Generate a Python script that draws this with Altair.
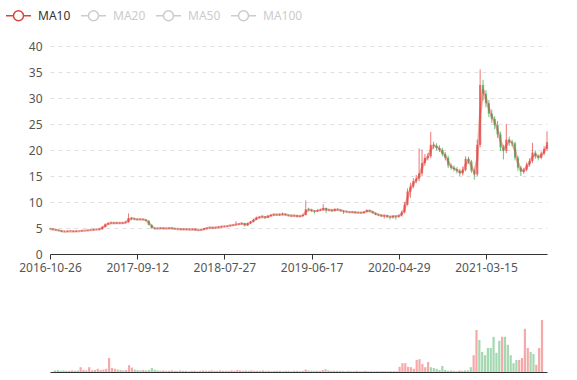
import altair as alt
import pandas as pd

# ---- data (one candle ~ 7 trading days) ----
tick_labels = ["2016-10-26", "2017-09-12", "2018-07-27", "2019-06-17", "2020-04-29", "2021-03-15"]
label_step = 30
ma_names = ["MA10", "MA20", "MA50", "MA100"]

opens = [4.90, 4.80, 4.70, 4.60, 4.50, 4.30, 4.30, 4.40, 4.40, 4.30, 4.40, 4.40, 4.50, 4.50, 4.60, 4.60, 4.70, 4.70, 4.80, 5.20,
         5.70, 5.90, 6.00, 5.90, 6.00, 5.90, 6.00, 6.10, 6.90, 6.80, 6.70, 6.60, 6.70, 6.60, 6.40, 5.60, 5.00, 4.90, 4.90, 5.00,
         4.90, 4.90, 5.00, 4.90, 4.80, 4.80, 4.70, 4.80, 4.70, 4.70, 4.80, 4.60, 4.60, 4.70, 4.90, 5.00, 5.10, 5.00, 5.10, 5.20,
         5.30, 5.30, 5.40, 5.50, 5.60, 5.70, 5.80, 5.90, 5.50, 5.90, 6.20, 6.60, 7.00, 7.10, 7.20, 7.00, 7.30, 7.50, 7.60, 7.50,
         7.60, 7.70, 7.50, 7.40, 7.30, 7.40, 7.20, 7.30, 7.50, 8.60, 8.50, 8.30, 8.20, 8.40, 8.50, 8.80, 8.40, 8.50, 8.30, 8.60,
         8.50, 8.30, 8.20, 8.10, 8.00, 8.10, 7.90, 8.00, 7.90, 8.10, 8.40, 8.20, 7.90, 7.60, 7.50, 7.30, 7.40, 7.20, 7.10, 7.30,
         7.20, 7.40, 8.00, 9.50, 12.00, 13.00, 14.00, 14.50, 15.50, 17.50, 18.50, 18.80, 21.00, 20.80, 20.40, 20.00, 19.20, 18.50, 17.00, 16.60,
         16.30, 16.00, 15.50, 16.20, 18.30, 17.80, 16.00, 15.30, 21.00, 32.50, 30.80, 29.00, 27.00, 26.00, 24.80, 23.00, 20.50, 19.80, 22.00, 21.50,
         21.30, 18.50, 16.60, 15.80, 16.20, 17.20, 17.90, 19.50, 18.80, 18.50, 19.30, 20.20]

closes = [4.80, 4.70, 4.60, 4.50, 4.30, 4.30, 4.40, 4.40, 4.30, 4.40, 4.40, 4.50, 4.50, 4.60, 4.60, 4.70, 4.70, 4.80, 5.20, 5.70,
          5.90, 6.00, 5.90, 6.00, 5.90, 6.00, 6.10, 6.90, 6.80, 6.70, 6.60, 6.70, 6.60, 6.40, 5.60, 5.00, 4.90, 4.90, 5.00, 4.90,
          4.90, 5.00, 4.90, 4.80, 4.80, 4.70, 4.80, 4.70, 4.70, 4.80, 4.60, 4.60, 4.70, 4.90, 5.00, 5.10, 5.00, 5.10, 5.20, 5.30,
          5.30, 5.40, 5.50, 5.60, 5.70, 5.80, 5.90, 5.50, 5.90, 6.20, 6.60, 7.00, 7.10, 7.20, 7.00, 7.30, 7.50, 7.60, 7.50, 7.60,
          7.70, 7.50, 7.40, 7.30, 7.40, 7.20, 7.30, 7.50, 8.60, 8.50, 8.30, 8.20, 8.40, 8.50, 8.80, 8.40, 8.50, 8.30, 8.60, 8.50,
          8.30, 8.20, 8.10, 8.00, 8.10, 7.90, 8.00, 7.90, 8.10, 8.40, 8.20, 7.90, 7.60, 7.50, 7.30, 7.40, 7.20, 7.10, 7.30, 7.20,
          7.40, 8.00, 9.50, 12.00, 13.00, 14.00, 14.50, 15.50, 17.50, 18.50, 18.80, 21.00, 20.80, 20.40, 20.00, 19.20, 18.50, 17.00, 16.60, 16.30,
          16.00, 15.50, 16.20, 18.30, 17.80, 16.00, 15.30, 21.00, 32.50, 30.80, 29.00, 27.00, 26.00, 24.80, 23.00, 20.50, 19.80, 22.00, 21.50, 21.30,
          18.50, 16.60, 15.80, 16.20, 17.20, 17.90, 19.50, 18.80, 18.50, 19.30, 20.20, 21.50]

highs = [5.00, 4.90, 4.80, 4.70, 4.60, 4.45, 4.50, 4.55, 4.50, 4.55, 4.50, 4.60, 4.60, 4.70, 4.75, 4.80, 4.80, 4.95, 5.40, 5.90,
         6.10, 6.20, 6.10, 6.15, 6.10, 6.15, 6.30, 7.80, 7.10, 6.95, 6.85, 6.85, 6.80, 6.70, 6.50, 5.70, 5.10, 5.05, 5.10, 5.10,
         5.05, 5.15, 5.10, 5.00, 4.95, 4.90, 4.95, 4.90, 4.85, 4.90, 4.90, 4.75, 4.80, 5.00, 5.15, 5.25, 5.20, 5.20, 5.35, 5.40,
         5.45, 5.50, 5.65, 5.70, 6.30, 5.95, 6.05, 6.00, 6.05, 6.35, 6.80, 7.20, 7.30, 7.45, 7.30, 7.50, 7.70, 7.80, 7.75, 7.80,
         7.95, 7.80, 7.65, 7.55, 7.55, 7.50, 7.45, 7.65, 10.30, 8.90, 8.70, 8.45, 8.60, 8.70, 9.60, 8.95, 8.70, 8.60, 8.80, 8.75,
         8.60, 8.45, 8.30, 8.20, 8.25, 8.20, 8.10, 8.10, 8.25, 8.60, 8.50, 8.30, 8.00, 7.70, 7.60, 7.55, 7.50, 7.30, 7.45, 7.40,
         7.55, 8.30, 10.00, 12.60, 13.70, 14.60, 15.20, 20.30, 20.10, 19.20, 19.40, 23.50, 21.60, 21.30, 20.90, 20.40, 19.60, 18.90, 17.40, 17.00,
         16.70, 16.40, 16.80, 18.80, 18.70, 18.10, 16.30, 22.00, 35.50, 33.50, 31.50, 29.60, 27.80, 26.50, 25.60, 23.50, 21.00, 25.00, 22.60, 22.00,
         21.60, 18.90, 16.90, 16.60, 17.60, 18.40, 21.40, 19.90, 19.20, 19.70, 20.70, 23.60]

lows = [4.70, 4.60, 4.50, 4.40, 4.20, 4.20, 4.20, 4.30, 4.20, 4.25, 4.30, 4.30, 4.40, 4.40, 4.50, 4.50, 4.60, 4.60, 4.70, 5.10,
        5.60, 5.80, 5.75, 5.80, 5.80, 5.80, 5.90, 6.00, 6.50, 6.50, 6.45, 6.50, 6.45, 6.30, 5.50, 4.85, 4.75, 4.80, 4.80, 4.75,
        4.80, 4.80, 4.75, 4.70, 4.65, 4.60, 4.60, 4.60, 4.55, 4.60, 4.45, 4.45, 4.50, 4.60, 4.75, 4.90, 4.85, 4.90, 5.00, 5.10,
        5.15, 5.20, 5.30, 5.40, 5.50, 5.60, 5.65, 5.30, 5.40, 5.80, 6.10, 6.50, 6.80, 6.90, 6.70, 6.90, 7.20, 7.35, 7.40, 7.35,
        7.45, 7.40, 7.25, 7.15, 7.20, 7.05, 7.10, 7.20, 7.40, 8.20, 8.10, 7.80, 8.10, 8.25, 8.30, 7.90, 8.25, 8.10, 8.20, 8.30,
        8.15, 7.70, 7.95, 7.85, 7.90, 7.75, 7.80, 7.70, 7.80, 8.00, 8.05, 7.75, 7.45, 7.30, 7.10, 6.80, 6.90, 6.60, 6.80, 6.60,
        7.00, 7.20, 7.80, 9.30, 10.80, 12.60, 13.60, 14.00, 15.00, 17.00, 18.00, 18.40, 20.20, 19.90, 19.60, 18.80, 18.00, 16.50, 16.20, 15.90,
        15.50, 15.00, 15.10, 15.90, 17.30, 15.60, 14.30, 15.00, 20.50, 29.50, 28.20, 26.30, 25.20, 24.00, 22.30, 19.80, 18.20, 19.40, 20.80, 20.70,
        18.00, 16.00, 15.00, 15.40, 15.90, 16.80, 17.50, 18.30, 18.00, 18.20, 19.00, 19.80]

volumes = [4, 5, 3, 4, 3, 3, 4, 3, 4, 12, 5, 4, 12, 4, 5, 8, 5, 6, 8, 35,
           10, 8, 6, 5, 4, 5, 17, 11, 6, 5, 4, 5, 4, 5, 10, 6, 4, 3, 4, 3,
           3, 4, 3, 3, 4, 3, 3, 2, 3, 3, 2, 3, 4, 3, 3, 4, 3, 3, 4, 3,
           3, 3, 4, 3, 5, 4, 3, 4, 3, 4, 3, 3, 3, 4, 3, 3, 2, 3, 3, 3,
           2, 3, 3, 2, 3, 3, 2, 3, 6, 4, 3, 3, 3, 3, 5, 7, 4, 3, 3, 3,
           3, 3, 2, 3, 2, 2, 3, 2, 2, 3, 2, 2, 2, 2, 2, 2, 2, 2, 2, 2,
           2, 13, 22, 22, 13, 12, 8, 30, 32, 20, 12, 25, 12, 10, 8, 5, 15, 5, 3, 4,
           3, 2, 4, 3, 4, 4, 12, 42, 105, 80, 50, 42, 60, 60, 88, 48, 78, 88, 88, 68,
           42, 22, 30, 30, 35, 108, 60, 50, 45, 18, 60, 130]

n = len(closes)
df = pd.DataFrame({
    "i": list(range(n)),
    "open": opens,
    "close": closes,
    "high": highs,
    "low": lows,
    "volume": volumes,
})
df["dir"] = ["up" if c >= o else "down" for o, c in zip(opens, closes)]

UP = "#eb5454"
DOWN = "#47b262"
FONT = "Noto Sans"

dir_scale = alt.Scale(domain=["up", "down"], range=[UP, DOWN])
x_scale = alt.Scale(domain=[0, n - 1], nice=False, zero=False)
label_expr = "[" + ",".join("'%s'" % t for t in tick_labels) + "][round(datum.value / %d)]" % label_step
tick_vals = [k * label_step for k in range(len(tick_labels))]

x_top = alt.X(
    "i:Q", scale=x_scale, title=None,
    axis=alt.Axis(values=tick_vals, labelExpr=label_expr, grid=False, domainColor="#333",
                  tickColor="#333", tickSize=5, labelColor="#555", labelFontSize=12, labelFont=FONT,
                  labelPadding=3, labelFlush=False, labelOverlap=False, minExtent=22, maxExtent=22),
)
y_scale = alt.Scale(domain=[0, 40], nice=False, zero=True)
y_axis = alt.Axis(values=[0, 5, 10, 15, 20, 25, 30, 35, 40], grid=True, gridDash=[4, 4], gridColor="#e0e0e0",
                  domain=False, ticks=False, labelColor="#555", labelFontSize=12, labelFont=FONT,
                  labelPadding=8, minExtent=45, maxExtent=45, title=None)

base = alt.Chart(df)

wick = base.mark_rule(strokeWidth=1, opacity=0.8).encode(
    x=x_top,
    y=alt.Y("low:Q", scale=y_scale, axis=y_axis),
    y2="high:Q",
    color=alt.Color("dir:N", scale=dir_scale, legend=None),
)
body = base.mark_rule(strokeWidth=2.2, opacity=0.8).encode(
    x=x_top,
    y=alt.Y("open:Q", scale=y_scale, axis=y_axis),
    y2="close:Q",
    color=alt.Color("dir:N", scale=dir_scale, legend=None),
)

legend_symbol = "M-1,0H-0.4M0.4,0H1M-0.4,0A0.4,0.4,0,1,1,0.4,0A0.4,0.4,0,1,1,-0.4,0"
ma_line = base.transform_window(
    ma="mean(close)", frame=[-1, 0], sort=[alt.SortField("i")]
).transform_calculate(
    name="'MA10'"
).mark_line(strokeWidth=2.4, opacity=0.45).encode(
    x=x_top,
    y=alt.Y("ma:Q", scale=y_scale, axis=y_axis),
    stroke=alt.Stroke(
        "name:N",
        scale=alt.Scale(domain=ma_names, range=["#d9443a", "#cccccc", "#cccccc", "#cccccc"]),
        legend=alt.Legend(title=None, orient="none", legendX=-45, legendY=-44, direction="horizontal",
                          symbolType=legend_symbol, symbolSize=625, symbolStrokeWidth=1.5,
                          symbolFillColor="white", symbolOpacity=1, labelFontSize=12, labelFont=FONT,
                          labelColor=alt.ExprRef("datum.label == 'MA10' ? '#333' : '#ccc'"),
                          labelOffset=6, columnPadding=7),
    ),
)

top = alt.layer(wick, body, ma_line).properties(width=497, height=208)

x_vol = alt.X("i:Q", scale=x_scale, title=None,
              axis=alt.Axis(labels=False, ticks=False, grid=False, domainColor="#333", minExtent=5, maxExtent=5))
vol = alt.Chart(df).mark_bar(size=2.2, opacity=0.5).encode(
    x=x_vol,
    y=alt.Y("volume:Q", scale=alt.Scale(domain=[0, 180], nice=False),
            axis=alt.Axis(labels=False, ticks=False, domain=False, grid=False, title=None,
                          minExtent=45, maxExtent=45)),
    color=alt.Color("dir:N", scale=dir_scale, legend=None),
).properties(width=497, height=72)

chart = alt.vconcat(top, vol, spacing=24).properties(
    padding={"left": 5, "top": 2, "right": 5, "bottom": 2},
    background="white",
).configure_view(stroke=None)

chart.save("out.html", embed_options={"renderer": "svg", "actions": False})
